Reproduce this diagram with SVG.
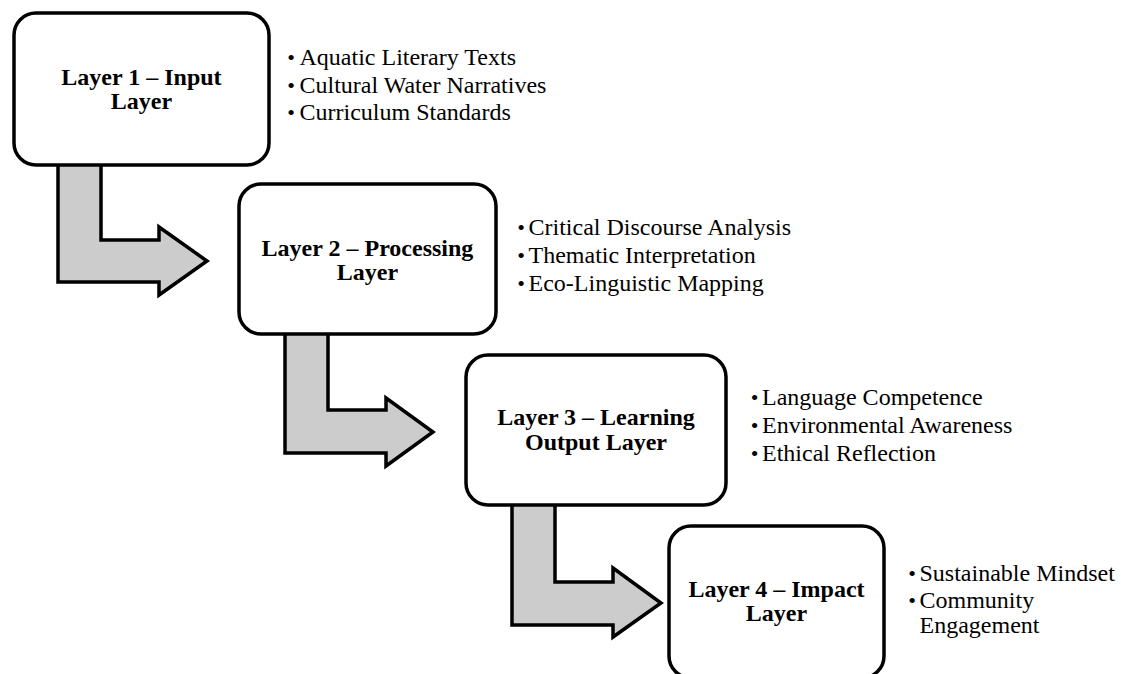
<svg xmlns="http://www.w3.org/2000/svg" width="1121" height="674" viewBox="0 0 1121 674">
  <style>
    .box { fill: #ffffff; stroke: #000000; stroke-width: 3.5; }
    .arrow { fill: #cccccc; stroke: #000000; stroke-width: 3.5; stroke-linejoin: miter; }
    .title { font-family: "Liberation Serif", "Times New Roman", serif; font-weight: bold; font-size: 24px; fill: #000; text-anchor: middle; }
    .item { font-family: "Liberation Serif", "Times New Roman", serif; font-size: 24px; fill: #000; }
    .dot { font-family: "Liberation Serif", "Times New Roman", serif; font-size: 22px; fill: #000; text-anchor: middle; }
  </style>
  <rect width="1121" height="674" fill="#ffffff"/>

  <!-- bent block arrows between layers (drawn under the boxes) -->
  <g id="connectors">
    <polygon class="arrow" points="58,163 101,163 101,240 159,240 159,227 207,261 159,295 159,282 58,282"/>
    <polygon class="arrow" points="285,332 328,332 328,410 386,410 386,398 433,432 386,466 386,453 285,453"/>
    <polygon class="arrow" points="512,503 555,503 555,582 613,582 613,568 661,603 613,637 613,625 512,625"/>
  </g>

  <g id="layer1">
    <rect class="box" x="14" y="13" width="255" height="152" rx="22" ry="22"/>
    <text class="title" x="141.5" y="85">Layer 1 – Input</text>
    <text class="title" x="141.5" y="109">Layer</text>
  </g>
  <g id="layer1-items">
    <text class="dot" x="291" y="65">•</text>
    <text class="item" x="299.5" y="65">Aquatic Literary Texts</text>
    <text class="dot" x="291" y="92.5">•</text>
    <text class="item" x="299.5" y="92.5">Cultural Water Narratives</text>
    <text class="dot" x="291" y="120">•</text>
    <text class="item" x="299.5" y="120">Curriculum Standards</text>
  </g>

  <g id="layer2">
    <rect class="box" x="239" y="184" width="257" height="150" rx="22" ry="22"/>
    <text class="title" x="367.5" y="256">Layer 2 – Processing</text>
    <text class="title" x="367.5" y="279.5">Layer</text>
  </g>
  <g id="layer2-items">
    <text class="dot" x="521" y="235">•</text>
    <text class="item" x="528.5" y="235">Critical Discourse Analysis</text>
    <text class="dot" x="521" y="262.7">•</text>
    <text class="item" x="528.5" y="262.7">Thematic Interpretation</text>
    <text class="dot" x="521" y="290.5">•</text>
    <text class="item" x="528.5" y="290.5">Eco-Linguistic Mapping</text>
  </g>

  <g id="layer3">
    <rect class="box" x="466" y="355" width="260" height="150" rx="22" ry="22"/>
    <text class="title" x="596" y="425">Layer 3 – Learning</text>
    <text class="title" x="596" y="450">Output Layer</text>
  </g>
  <g id="layer3-items">
    <text class="dot" x="754.5" y="405">•</text>
    <text class="item" x="762" y="405">Language Competence</text>
    <text class="dot" x="754.5" y="432.7">•</text>
    <text class="item" x="762" y="432.7">Environmental Awareness</text>
    <text class="dot" x="754.5" y="460.5">•</text>
    <text class="item" x="762" y="460.5">Ethical Reflection</text>
  </g>

  <g id="layer4">
    <rect class="box" x="669" y="526" width="215" height="152" rx="22" ry="22"/>
    <text class="title" x="776.5" y="597">Layer 4 – Impact</text>
    <text class="title" x="776.5" y="621">Layer</text>
  </g>
  <g id="layer4-items">
    <text class="dot" x="912" y="580.7">•</text>
    <text class="item" x="919.5" y="580.7">Sustainable Mindset</text>
    <text class="dot" x="912" y="608.3">•</text>
    <text class="item" x="919.5" y="608.3">Community</text>
    <text class="item" x="919.5" y="633.3">Engagement</text>
  </g>
</svg>
